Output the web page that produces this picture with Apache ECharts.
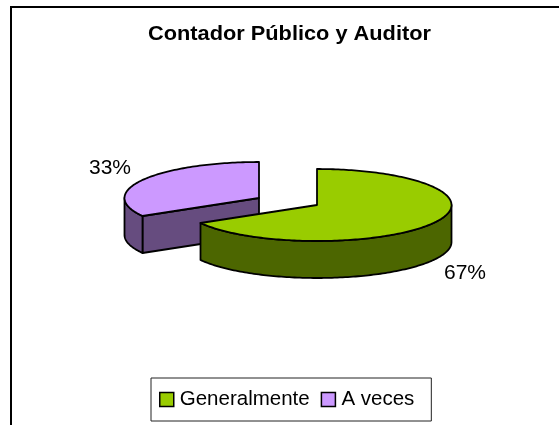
<!DOCTYPE html>
<html><head><meta charset="utf-8">
<style>html,body{margin:0;padding:0;background:#fff}#c{width:559px;height:425px}</style>
<script src="https://cdn.jsdelivr.net/npm/echarts@6/dist/echarts.min.js"></script>
</head><body><div id="c"></div>
<script>
const chartTitle = 'Contador Público y Auditor';
const categories = ['Generalmente', 'A veces'];
const shares = [66.67, 33.33];
const topColors = ['#99CC00', '#CC99FF'];
const sideColors = ['#4C6600', '#664C7F'];
const centers = [[317, 205], [259, 198]];
const labelPos = [[465, 273], [110, 168]];
const RX = 134.5, RY = 36, DEPTH = 37;
const FONT = '"Liberation Sans", Arial, sans-serif';
const total = shares.reduce((a, b) => a + b, 0);
const starts = shares.map((_, i) => shares.slice(0, i).reduce((a, b) => a + b, 0));

function pt(c, a, dy) { // a: clockwise angle from 12 o'clock, radians
  return [c[0] + RX * Math.sin(a), c[1] - RY * Math.cos(a) + (dy || 0)];
}
function arc(c, a0, a1, dy) {
  const n = Math.max(2, Math.ceil(Math.abs(a1 - a0) / 0.02)), out = [];
  for (let k = 0; k <= n; k++) out.push(pt(c, a0 + (a1 - a0) * k / n, dy));
  return out;
}
function renderSlice(i) {
  return function (params, api) {
    const a0 = api.value(0) / total * 2 * Math.PI;
    const a1 = (api.value(0) + api.value(1)) / total * 2 * Math.PI;
    const c = centers[i], els = [];
    const st = (fill) => ({ fill, stroke: '#000', lineWidth: 1.8, lineJoin: 'round' });
    const f0 = Math.max(a0, Math.PI / 2), f1 = Math.min(a1, 3 * Math.PI / 2);
    if (a1 < 2 * Math.PI + 1e-6 && a1 > Math.PI && a0 > 0) {
      const e = pt(c, a0);
      els.push({ type: 'polygon', shape: { points: [c, e, [e[0], e[1] + DEPTH], [c[0], c[1] + DEPTH]] }, style: st(sideColors[i]) });
    }
    if (f1 > f0) {
      const up = arc(c, f0, f1, 0), down = arc(c, f1, f0, DEPTH);
      els.push({ type: 'polygon', shape: { points: up.concat(down) }, style: st(sideColors[i]) });
    }
    els.push({ type: 'polygon', shape: { points: [c].concat(arc(c, a0, a1, 0)) }, style: st(topColors[i]) });
    els.push({ type: 'text', style: { text: Math.round(api.value(1)) + '%', x: labelPos[i][0], y: labelPos[i][1], align: 'center', verticalAlign: 'middle', fill: '#000', font: '21px ' + FONT } });
    return { type: 'group', children: els };
  };
}
const order = [1, 0];
const series = order.map(i => ({
  type: 'custom', name: categories[i], coordinateSystem: 'none',
  renderItem: renderSlice(i), animation: false, silent: true,
  itemStyle: { color: topColors[i] },
  data: [[starts[i], shares[i]]]
}));
const chart = echarts.init(document.getElementById('c'), null, { renderer: 'canvas' });
chart.setOption({
  animation: false,
  backgroundColor: '#fff',
  legend: {
    data: categories, left: 151, top: 378, orient: 'horizontal', icon: 'rect', itemWidth: 14, itemHeight: 14, itemGap: 11,
    padding: [11, 17, 11, 8], borderColor: '#222', borderWidth: 1, backgroundColor: '#fff',
    itemStyle: { borderColor: '#000', borderWidth: 1.5 },
    textStyle: { fontFamily: FONT, fontSize: 20.5, color: '#000', padding: [0, 0, 0, 1] }
  },
  graphic: [
    { type: 'line', silent: true, shape: { x1: 10, y1: 7, x2: 559, y2: 7 }, style: { stroke: '#000', lineWidth: 2 } },
    { type: 'line', silent: true, shape: { x1: 11, y1: 6, x2: 11, y2: 425 }, style: { stroke: '#000', lineWidth: 2 } },
    { type: 'text', silent: true, x: 289.5, y: 34, scaleX: 1.088, style: { text: chartTitle, align: 'center', verticalAlign: 'middle', fill: '#000', font: 'bold 20px ' + FONT } }
  ],
  series
});
</script></body></html>
